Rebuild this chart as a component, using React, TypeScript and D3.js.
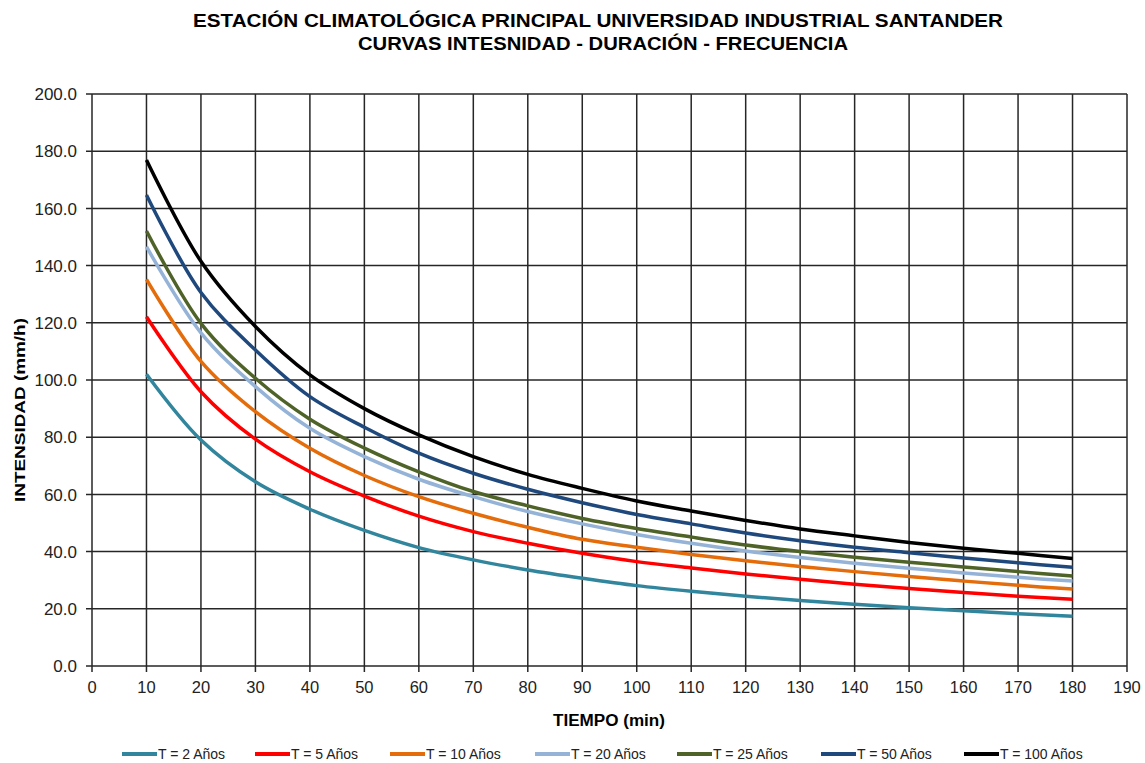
import React, { useEffect, useRef } from 'react'
import * as d3 from 'd3'

// duraciones (min) e intensidades (mm/h)
const tiempo = [10, 20, 30, 40, 50, 60, 70, 80, 90, 100, 110, 120, 130, 140, 150, 160, 170, 180]

const t2 = [102.0, 79.0, 64.4, 54.8, 47.4, 41.4, 37.1, 33.6, 30.7, 28.1, 26.1, 24.4, 22.9, 21.6, 20.4, 19.3, 18.3, 17.4]
const t5 = [122.1, 95.9, 79.3, 67.9, 59.4, 52.4, 47.0, 42.9, 39.4, 36.5, 34.3, 32.2, 30.3, 28.6, 27.1, 25.7, 24.4, 23.3]
const t10 = [135.2, 106.5, 88.9, 76.1, 66.6, 59.2, 53.4, 48.5, 44.3, 41.5, 39.0, 36.8, 34.8, 33.0, 31.3, 29.7, 28.2, 26.9]
const t20 = [146.6, 116.5, 97.7, 83.1, 73.2, 65.3, 59.2, 54.0, 49.7, 46.0, 42.9, 40.2, 37.9, 35.9, 34.2, 32.5, 31.0, 29.7]
const t25 = [152.1, 119.8, 100.6, 86.3, 76.2, 67.9, 61.0, 56.0, 51.6, 48.1, 45.1, 42.3, 40.0, 38.0, 36.3, 34.6, 33.0, 31.5]
const t50 = [164.7, 130.6, 110.5, 94.2, 83.5, 74.4, 67.4, 61.8, 57.1, 53.0, 49.7, 46.5, 43.8, 41.5, 39.6, 37.8, 36.1, 34.5]
const t100 = [176.9, 141.5, 118.7, 101.8, 90.0, 80.8, 73.2, 67.0, 62.1, 57.7, 54.2, 50.9, 47.9, 45.5, 43.2, 41.2, 39.4, 37.6]

const seriesNames = ['T = 2 Años', 'T = 5 Años', 'T = 10 Años', 'T = 20 Años', 'T = 25 Años', 'T = 50 Años', 'T = 100 Años']
const seriesValues = [t2, t5, t10, t20, t25, t50, t100]
const colors = ['#31859C', '#FF0000', '#E46C0A', '#95B3D7', '#4F6228', '#1F497D', '#000000']

const xTicks = d3.range(0, 191, 10)
const yTicks = d3.range(0, 201, 20)

const W = 1145
const H = 763
const margin = { top: 94, right: 18, bottom: 97, left: 92 }
const FONT = '"Liberation Sans", Arial, sans-serif'

const App = () => {
  const ref = useRef<SVGSVGElement>(null)

  useEffect(() => {
    var svg = d3.select(ref.current)
    svg.selectAll('*').remove()

    var width = W - margin.left - margin.right,
      height = H - margin.top - margin.bottom

    var x = d3.scaleLinear().domain([0, 190]).range([0, width])
    var y = d3.scaleLinear().domain([0, 200]).range([height, 0])

    // titulo
    var title = svg.append('g').attr('font-family', FONT).attr('font-weight', 'bold').attr('fill', '#000')
    title
      .append('text')
      .attr('x', 598)
      .attr('y', 27)
      .attr('text-anchor', 'middle')
      .attr('font-size', 18)
      .attr('textLength', 810)
      .attr('lengthAdjust', 'spacingAndGlyphs')
      .text('ESTACIÓN CLIMATOLÓGICA PRINCIPAL UNIVERSIDAD INDUSTRIAL SANTANDER')
    title
      .append('text')
      .attr('x', 603)
      .attr('y', 50)
      .attr('text-anchor', 'middle')
      .attr('font-size', 18)
      .attr('textLength', 490)
      .attr('lengthAdjust', 'spacingAndGlyphs')
      .text('CURVAS INTESNIDAD - DURACIÓN - FRECUENCIA')

    var g = svg.append('g').attr('transform', 'translate(' + margin.left + ',' + margin.top + ')')

    // -------------------------------------------------
    // rejilla y ejes
    // -------------------------------------------------
    g.append('g')
      .selectAll('line')
      .data(yTicks)
      .enter()
      .append('line')
      .attr('x1', -6)
      .attr('x2', width)
      .attr('y1', d => y(d))
      .attr('y2', d => y(d))
      .attr('stroke', '#262626')
      .attr('stroke-width', 1.5)

    g.append('g')
      .selectAll('line')
      .data(xTicks)
      .enter()
      .append('line')
      .attr('x1', d => x(d))
      .attr('x2', d => x(d))
      .attr('y1', 0)
      .attr('y2', height + 6)
      .attr('stroke', '#262626')
      .attr('stroke-width', 1.5)

    g.append('g')
      .selectAll('text')
      .data(yTicks)
      .enter()
      .append('text')
      .attr('x', -15)
      .attr('y', d => y(d))
      .attr('dy', '0.36em')
      .attr('text-anchor', 'end')
      .attr('font-family', FONT)
      .attr('font-size', 17)
      .attr('fill', '#222')
      .text(d => d3.format('.1f')(d))

    g.append('g')
      .selectAll('text')
      .data(xTicks)
      .enter()
      .append('text')
      .attr('x', d => x(d))
      .attr('y', height + 27)
      .attr('text-anchor', 'middle')
      .attr('font-family', FONT)
      .attr('font-size', 16.5)
      .attr('fill', '#222')
      .text(d => d)

    // titulos de ejes
    svg
      .append('text')
      .attr('transform', 'translate(25,410) rotate(-90)')
      .attr('text-anchor', 'middle')
      .attr('font-family', FONT)
      .attr('font-weight', 'bold')
      .attr('font-size', 15)
      .attr('textLength', 184)
      .attr('lengthAdjust', 'spacingAndGlyphs')
      .text('INTENSIDAD (mm/h)')

    svg
      .append('text')
      .attr('x', 609)
      .attr('y', 726)
      .attr('text-anchor', 'middle')
      .attr('font-family', FONT)
      .attr('font-weight', 'bold')
      .attr('font-size', 16)
      .attr('textLength', 112)
      .attr('lengthAdjust', 'spacingAndGlyphs')
      .text('TIEMPO (min)')

    // -------------------------------------------------
    // curvas IDF
    // -------------------------------------------------
    var line = d3
      .line<number>()
      .x((d, i) => x(tiempo[i]))
      .y(d => y(d))
      .curve(d3.curveCatmullRom.alpha(0.5))

    g.append('g')
      .selectAll('path')
      .data(seriesValues)
      .enter()
      .append('path')
      .attr('d', d => line(d))
      .attr('fill', 'none')
      .attr('stroke', (d, i) => colors[i])
      .attr('stroke-width', 3.5)
      .attr('stroke-linejoin', 'round')

    // leyenda
    var legendX = [122, 255, 390, 535, 677, 821, 964]
    var legend = svg
      .append('g')
      .selectAll('g')
      .data(seriesNames)
      .enter()
      .append('g')
      .attr('transform', (d, i) => 'translate(' + legendX[i] + ',754)')

    legend
      .append('line')
      .attr('x1', 0)
      .attr('x2', 35)
      .attr('stroke', (d, i) => colors[i])
      .attr('stroke-width', 4)

    legend
      .append('text')
      .attr('x', 36)
      .attr('y', 5)
      .attr('font-family', FONT)
      .attr('font-size', 14)
      .attr('fill', '#222')
      .text(d => d)
  }, [])

  return <svg ref={ref} width={W} height={H} style={{ display: 'block', position: 'absolute', left: 0, top: 0, background: '#fff' }} />
}

export default App
